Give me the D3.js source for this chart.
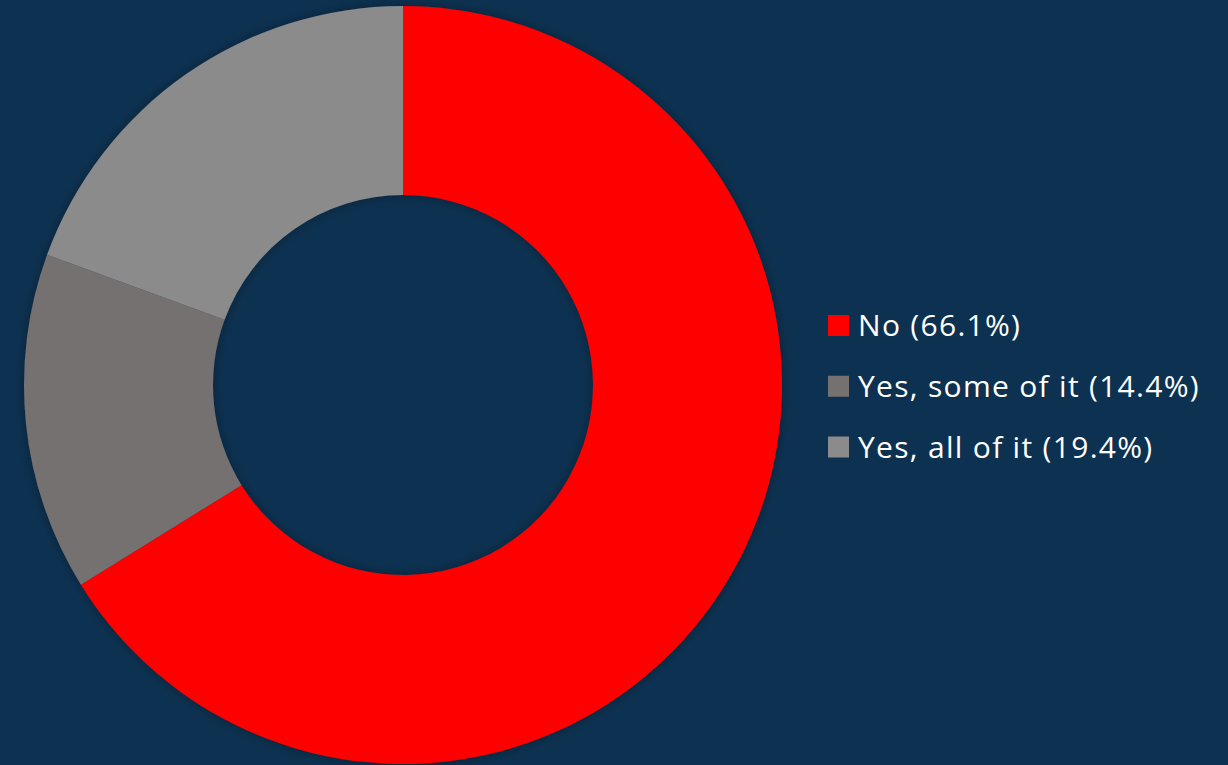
<!DOCTYPE html>
<html>
<head>
<meta charset="utf-8">
<script src="https://cdn.jsdelivr.net/npm/d3@7"></script>
<style>
	html, body { margin: 0; padding: 0; background: #0d3150; }
	svg { display: block; }
</style>
</head>
<body>
<svg id="chart" width="1228" height="765"></svg>
<script>
	/* Data */
	const categories = ["No", "Yes, some of it", "Yes, all of it"];
	const values = [66.1, 14.4, 19.4];
	const colors = ["#ff0000", "#767171", "#8b8b8b"];

	const cx = 403;
	const cy = 385;
	const outerRadius = 379;
	const innerRadius = 190;

	const svg = d3.select("#chart");

	const defs = svg.append("defs");
	const shadow = defs.append("filter")
		.attr("id", "softShadow")
		.attr("x", "-10%").attr("y", "-10%")
		.attr("width", "120%").attr("height", "120%");
	shadow.append("feDropShadow")
		.attr("dx", 0).attr("dy", 0)
		.attr("stdDeviation", 5)
		.attr("flood-color", "#000")
		.attr("flood-opacity", 0.35);

	const slices = categories.map((c, i) => ({ key: c, value: values[i], color: colors[i] }));

	const pie = d3.pie()
		.sort(null)
		.value((d) => d.value);

	const arc = d3.arc()
		.innerRadius(innerRadius)
		.outerRadius(outerRadius);

	svg.append("g")
		.attr("transform", "translate(" + cx + "," + cy + ")")
		.attr("filter", "url(#softShadow)")
		.selectAll("path")
		.data(pie(slices))
		.enter()
		.append("path")
		.attr("d", arc)
		.attr("fill", (d) => d.data.color);

	/* Legend */
	const legendY = d3.scalePoint()
		.domain(categories)
		.range([325.5, 447]);

	const legend = svg.append("g")
		.selectAll(".legendItem")
		.data(slices)
		.enter()
		.append("g")
		.attr("class", "legendItem")
		.attr("transform", (d) => "translate(828," + legendY(d.key) + ")");

	legend.append("rect")
		.attr("x", 0)
		.attr("y", -10.5)
		.attr("width", 21)
		.attr("height", 21)
		.attr("fill", (d) => d.color);

	legend.append("text")
		.attr("x", 30)
		.attr("y", 0)
		.attr("dy", "0.36em")
		.attr("fill", "#ffffff")
		.attr("font-family", "'Open Sans', sans-serif")
		.attr("font-size", 30)
		.attr("letter-spacing", 1.3)
		.text((d) => d.key + " (" + d.value.toFixed(1) + "%)");
</script>
</body>
</html>
